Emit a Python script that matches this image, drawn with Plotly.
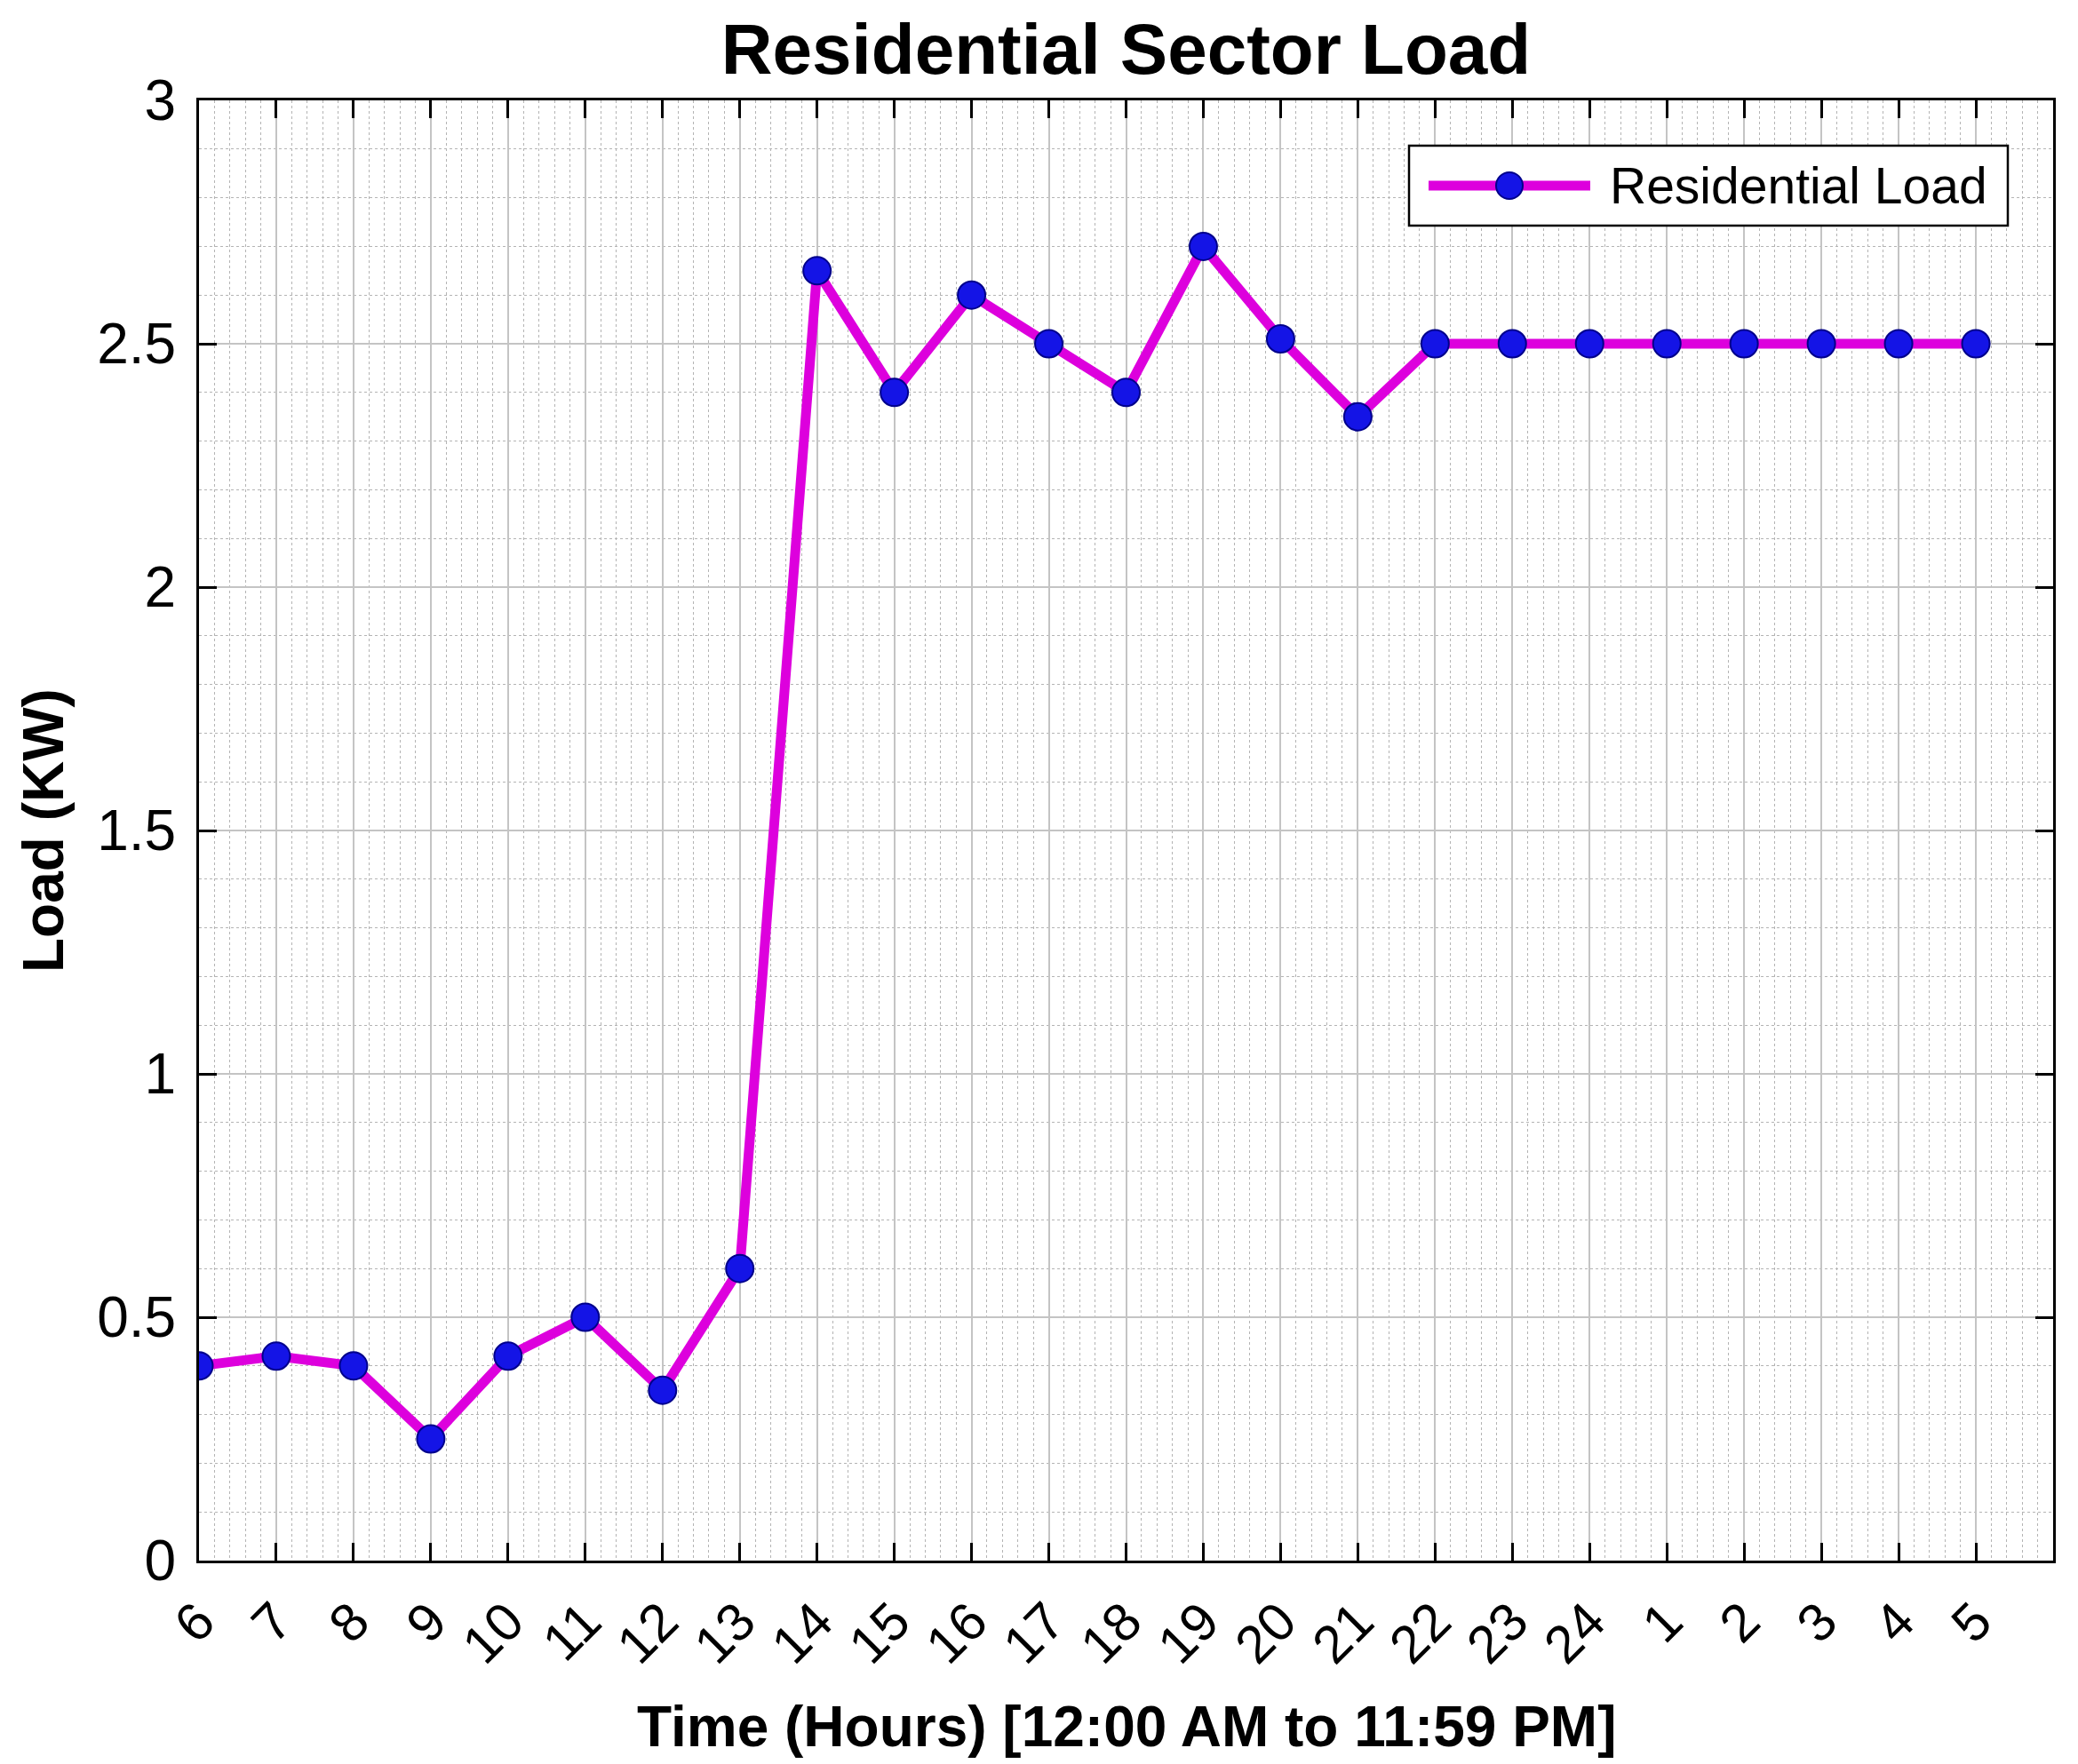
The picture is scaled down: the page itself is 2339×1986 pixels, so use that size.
import plotly.graph_objects as go

hours = ["6", "7", "8", "9", "10", "11", "12", "13", "14", "15", "16", "17",
         "18", "19", "20", "21", "22", "23", "24", "1", "2", "3", "4", "5"]
load_kw = [0.40, 0.42, 0.40, 0.25, 0.42, 0.50, 0.35, 0.60, 2.65, 2.40, 2.60, 2.50,
           2.40, 2.70, 2.51, 2.35, 2.50, 2.50, 2.50, 2.50, 2.50, 2.50, 2.50, 2.50]
y_ticks = [0, 0.5, 1, 1.5, 2, 2.5, 3]
y_ticklabels = ["0", "0.5", "1", "1.5", "2", "2.5", "3"]

series_name = "Residential Load"
title_text = "Residential Sector Load"
xlabel = "Time (Hours) [12:00 AM to 11:59 PM]"
ylabel = "Load (KW)"

LINE_COLOR = "#DD00DD"
MARKER_COLOR = "#1414E6"
MARKER_EDGE = "#00008B"
FONT = "Liberation Sans, Arial, sans-serif"

W, H = 2339, 1986
OFF = 8  # page body margin offset
# reference plot box (page pixels): left 224, right 2311, top 113, bottom 1757
ML = 224 - OFF
MT = 113 - OFF
MR = W - (2311 - OFF)
MB = H - (1757 - OFF)
PW = W - ML - MR
PH = H - MT - MB

x_idx = list(range(len(hours)))

fig = go.Figure()
fig.add_trace(go.Scatter(
    x=x_idx, y=load_kw, mode="lines+markers", name=series_name,
    line=dict(color=LINE_COLOR, width=11),
    marker=dict(color=MARKER_COLOR, size=31, line=dict(color=MARKER_EDGE, width=2)),
    showlegend=False,
))

def px_x(p):
    return (p - OFF - ML) / PW

def px_y(p):
    return (H - MB - (p - OFF)) / PH

# custom legend (MATLAB style box with long line sample)
shapes = [
    dict(type="rect", xref="paper", yref="paper",
         x0=px_x(1586), x1=px_x(2260), y0=px_y(254), y1=px_y(164),
         line=dict(color="black", width=2.5), fillcolor="white", layer="above"),
    dict(type="line", xref="paper", yref="paper",
         x0=px_x(1608), x1=px_x(1790), y0=px_y(209), y1=px_y(209),
         line=dict(color=LINE_COLOR, width=11), layer="above"),
    dict(type="circle", xref="paper", yref="paper",
         xsizemode="pixel", ysizemode="pixel",
         xanchor=px_x(1699), yanchor=px_y(209),
         x0=-15, x1=15, y0=-15, y1=15,
         fillcolor=MARKER_COLOR, line=dict(color=MARKER_EDGE, width=2), layer="above"),
]

annotations = [
    dict(text=series_name, xref="paper", yref="paper", x=px_x(1810), y=px_y(209),
         xanchor="left", yanchor="middle", showarrow=False,
         font=dict(family=FONT, size=57, color="black")),
    dict(text="<b>" + xlabel + "</b>", xref="paper", yref="paper", x=0.5, y=px_y(1944),
         xanchor="center", yanchor="middle", showarrow=False,
         font=dict(family=FONT, size=64, color="black")),
    dict(text="<b>" + ylabel + "</b>", xref="paper", yref="paper", x=px_x(49), y=0.5,
         xanchor="center", yanchor="middle", showarrow=False, textangle=-90,
         font=dict(family=FONT, size=64, color="black")),
]

fig.update_layout(
    width=W, height=H,
    margin=dict(l=ML, r=MR, t=MT, b=MB),
    paper_bgcolor="white", plot_bgcolor="white",
    title=dict(text="<b>" + title_text + "</b>", x=(ML + PW / 2) / W,
               xanchor="center", y=1 - (55 - OFF) / H, yanchor="middle",
               font=dict(family=FONT, size=80, color="black")),
    font=dict(family=FONT, color="black"),
    shapes=shapes, annotations=annotations,
    showlegend=False,
)

fig.update_xaxes(
    range=[0, len(hours)], tickmode="array", tickvals=x_idx, ticktext=hours,
    tickangle=-45, tickfont=dict(family=FONT, size=60, color="black"),
    showline=True, linecolor="black", linewidth=3, mirror="ticks",
    ticks="inside", ticklen=20, tickwidth=3, tickcolor="black",
    showgrid=True, gridcolor="#c4c4c4", gridwidth=1.5,
    minor=dict(dtick=0.2, showgrid=True, gridcolor="#b4b4b4", griddash="dot", gridwidth=1.2, ticks=""),
    zeroline=False, ticklabelstandoff=6,
)
fig.update_yaxes(
    range=[0, 3], tickmode="array", tickvals=y_ticks, ticktext=y_ticklabels,
    tickfont=dict(family=FONT, size=64, color="black"),
    showline=True, linecolor="black", linewidth=3, mirror="ticks",
    ticks="inside", ticklen=20, tickwidth=3, tickcolor="black",
    showgrid=True, gridcolor="#c4c4c4", gridwidth=1.5,
    minor=dict(dtick=0.1, showgrid=True, gridcolor="#b4b4b4", griddash="dot", gridwidth=1.2, ticks=""),
    zeroline=False, ticklabelstandoff=10,
)

fig.write_html("out.html")
